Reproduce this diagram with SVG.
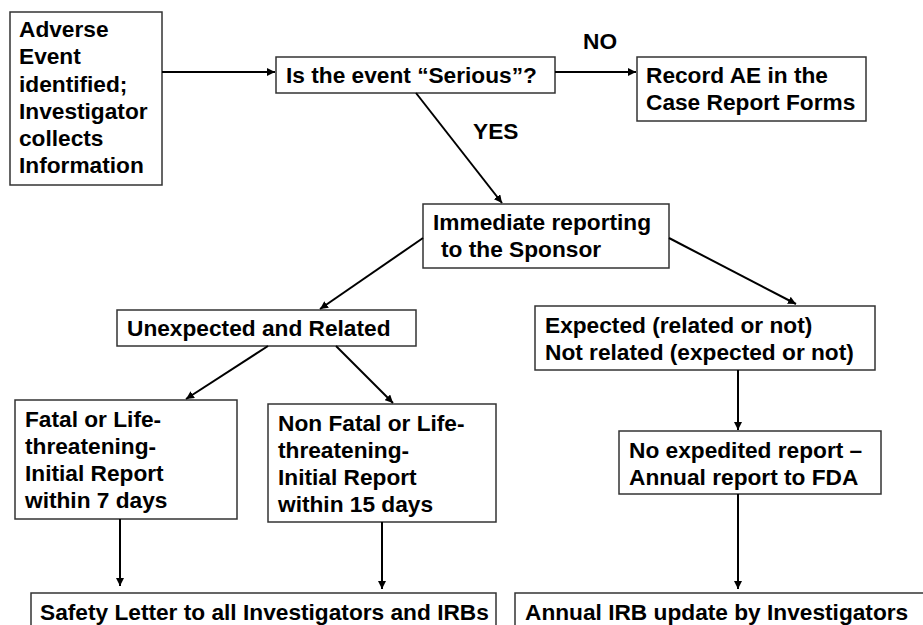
<svg xmlns="http://www.w3.org/2000/svg" width="923" height="625" viewBox="0 0 923 625">
<defs>
<marker id="ah" viewBox="0 0 10 10" refX="10" refY="5" markerWidth="4" markerHeight="4" orient="auto" markerUnits="strokeWidth">
<path d="M0,0 L10,5 L0,10 z" fill="#000"/>
</marker>
<style>
rect{fill:#fff;stroke:#333;stroke-width:1.5}
text{font-family:"Liberation Sans",Arial,sans-serif;font-weight:bold;font-size:22.7px;fill:#000}
.c line{stroke:#000;stroke-width:2;marker-end:url(#ah)}
</style>
</defs>
<rect x="0" y="0" width="923" height="625" style="fill:#fff;stroke:none"/>
<g id="n1"><rect x="10" y="12" width="152" height="173"/>
<text x="19" y="37">Adverse</text><text x="19" y="64">Event</text><text x="19" y="92">identified;</text><text x="19" y="119">Investigator</text><text x="19" y="146">collects</text><text x="19" y="173">Information</text></g>
<g id="n2"><rect x="276" y="57" width="279" height="36"/><text x="286" y="83">Is the event “Serious”?</text></g>
<g id="n3"><rect x="637" y="57" width="229" height="64"/><text x="646" y="83">Record AE in the</text><text x="646" y="110">Case Report Forms</text></g>
<g id="n4"><rect x="423" y="204" width="246" height="64"/><text x="433" y="230">Immediate reporting</text><text x="441" y="257">to the Sponsor</text></g>
<g id="n5"><rect x="117" y="310" width="299" height="36"/><text x="127" y="336">Unexpected and Related</text></g>
<g id="n6"><rect x="535" y="306" width="340" height="64"/><text x="545" y="333">Expected (related or not)</text><text x="545" y="360">Not related (expected or not)</text></g>
<g id="n7"><rect x="15" y="400" width="222" height="119"/><text x="25" y="427">Fatal or Life-</text><text x="25" y="454">threatening-</text><text x="25" y="481">Initial Report</text><text x="25" y="508">within 7 days</text></g>
<g id="n8"><rect x="268" y="404" width="228" height="118"/><text x="278" y="431">Non Fatal or Life-</text><text x="278" y="458">threatening-</text><text x="278" y="485">Initial Report</text><text x="278" y="512">within 15 days</text></g>
<g id="n9"><rect x="619" y="431" width="262" height="63"/><text x="629" y="458">No expedited report –</text><text x="629" y="485">Annual report to FDA</text></g>
<g id="n10"><rect x="31" y="593" width="465" height="40"/><text x="40" y="620">Safety Letter to all Investigators and IRBs</text></g>
<g id="n11"><rect x="515" y="593" width="420" height="40"/><text x="525" y="620">Annual IRB update by Investigators</text></g>
<g id="labels"><text x="583" y="49">NO</text><text x="473" y="139">YES</text></g>
<g class="c" id="connectors">
<line x1="162" y1="72" x2="275" y2="72"/>
<line x1="555" y1="72" x2="636" y2="72"/>
<line x1="416" y1="93" x2="502" y2="203"/>
<line x1="423" y1="238" x2="320" y2="309"/>
<line x1="669" y1="238" x2="796" y2="304"/>
<line x1="268" y1="346" x2="186" y2="399"/>
<line x1="336" y1="346" x2="393" y2="403"/>
<line x1="120" y1="519" x2="120" y2="586"/>
<line x1="382" y1="522" x2="382" y2="589"/>
<line x1="738" y1="370" x2="738" y2="430"/>
<line x1="738" y1="494" x2="738" y2="589"/>
</g>
</svg>
